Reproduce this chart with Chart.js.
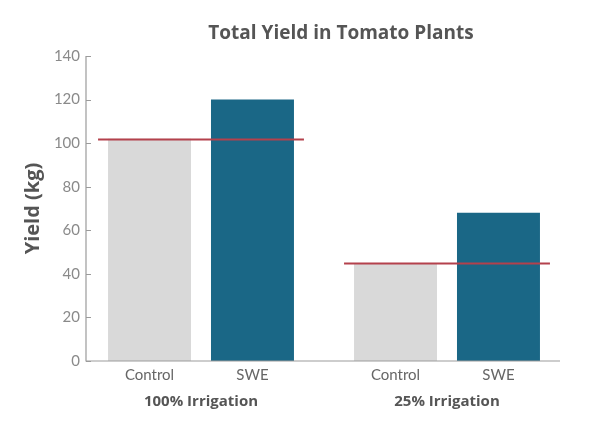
<!DOCTYPE html>
<html>
<head>
<meta charset="utf-8">
<script src="https://cdn.jsdelivr.net/npm/chart.js@4"></script>
<style>
  html, body { margin: 0; padding: 0; background: #fff; }
  #yieldChart { display: block; }
</style>
</head>
<body>
<canvas id="yieldChart" width="600" height="436"></canvas>
<script>
// data
const groupLabels = ['100% Irrigation', '25% Irrigation'];
const seriesNames = ['Control', 'SWE'];
const controlYield = [102, 45];
const sweYield = [120, 68];
const yMin = 0, yMax = 140, yStep = 20;

const CAT_PCT = 0.837;
const BAR_PCT = 0.806;
const TEXT_DARK = '#555555';
const AXIS_GREY = '#9b9b9b';

// axis lines, tick marks and labels, control reference lines, bar labels and title
const decorPlugin = {
    id: 'decor',
    afterDatasetsDraw(chart) {
        const { ctx, chartArea, scales } = chart;
        const x = scales.x, y = scales.y;
        const axisLeft = chartArea.left + 8;
        const axisRight = chartArea.right - 10;
        ctx.save();

        // red line at control level across each group
        const catWidth = (x.right - x.left) / groupLabels.length;
        ctx.strokeStyle = '#b4414c';
        ctx.lineWidth = 2;
        controlYield.forEach((v, i) => {
            const cx = x.getPixelForValue(i);
            const half = catWidth * CAT_PCT / 2;
            const py = Math.round(y.getPixelForValue(v)) + 0.5;
            ctx.beginPath();
            ctx.moveTo(cx - half, py);
            ctx.lineTo(cx + half, py);
            ctx.stroke();
        });

        // axes
        ctx.strokeStyle = AXIS_GREY;
        ctx.lineWidth = 1.2;
        ctx.beginPath();
        ctx.moveTo(axisLeft, y.getPixelForValue(yMax));
        ctx.lineTo(axisLeft, chartArea.bottom);
        ctx.lineTo(axisRight, chartArea.bottom);
        y.ticks.forEach(t => {
            const py = Math.round(y.getPixelForValue(t.value)) + 0.5;
            ctx.moveTo(axisLeft, py);
            ctx.lineTo(axisLeft + 5, py);
        });
        ctx.stroke();

        // y tick labels
        ctx.fillStyle = '#8a8a8a';
        ctx.font = '15px Lato';
        ctx.textAlign = 'right';
        ctx.textBaseline = 'middle';
        y.ticks.forEach(t => {
            ctx.fillText(String(t.value), axisLeft - 6, y.getPixelForValue(t.value));
        });

        // labels under each bar
        ctx.fillStyle = '#666';
        ctx.font = '15px Lato';
        ctx.textAlign = 'center';
        chart.data.datasets.forEach((ds, d) => {
            chart.getDatasetMeta(d).data.forEach(bar => {
                ctx.fillText(seriesNames[d], bar.x, chartArea.bottom + 14);
            });
        });

        // title
        ctx.fillStyle = TEXT_DARK;
        ctx.font = 'bold 19px "Open Sans"';
        ctx.fillText('Total Yield in Tomato Plants', 341, 34);
        ctx.restore();
    }
};

const ctx = document.getElementById('yieldChart');
new Chart(ctx, {
    type: 'bar',
    data: {
        labels: groupLabels,
        datasets: [
            {
                label: seriesNames[0],
                data: controlYield,
                backgroundColor: '#d9d9d9'
            },
            {
                label: seriesNames[1],
                data: sweYield,
                backgroundColor: '#1a6786'
            }
        ]
    },
    options: {
        responsive: false,
        animation: false,
        categoryPercentage: CAT_PCT,
        barPercentage: BAR_PCT,
        layout: { padding: { top: 56, right: 30, bottom: 0, left: 0 } },
        scales: {
            x: {
                grid: { display: false, drawTicks: false },
                border: { display: false },
                ticks: {
                    padding: 32,
                    color: TEXT_DARK,
                    font: { family: 'Open Sans', size: 15, weight: 'bold' }
                },
                afterFit(scale) { scale.height = 75; }
            },
            y: {
                min: yMin,
                max: yMax,
                grid: { display: false, drawTicks: false },
                border: { display: false },
                ticks: { stepSize: yStep, display: false },
                title: {
                    display: true,
                    text: 'Yield (kg)',
                    color: TEXT_DARK,
                    padding: { top: 21, bottom: 0 },
                    font: { family: 'Open Sans', size: 20, weight: 'bold' }
                },
                afterFit(scale) { scale.width = 78; }
            }
        },
        plugins: {
            legend: { display: false },
            tooltip: { enabled: false }
        }
    },
    plugins: [decorPlugin]
});
</script>
</body>
</html>
